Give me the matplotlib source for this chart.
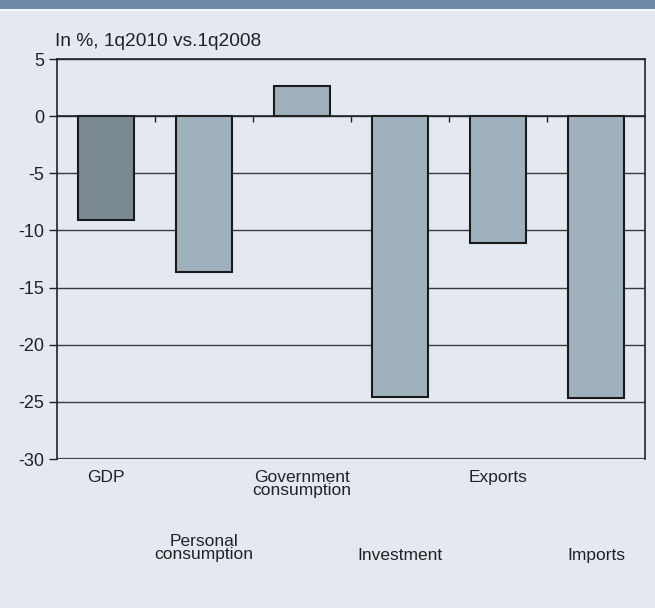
import matplotlib
matplotlib.use("Agg")
import matplotlib.pyplot as plt
from matplotlib.patches import Rectangle
import matplotlib.transforms as mtransforms

categories = ["GDP", "Personal\nconsumption", "Government\nconsumption",
              "Investment", "Exports", "Imports"]
values = [-9.1, -13.6, 2.6, -24.6, -11.1, -24.7]
bar_colors = ["#7b8a91", "#a0b1be", "#a0b1be", "#a0b1be", "#a0b1be", "#a0b1be"]
label_rows = [0, 1, 0, 1, 0, 1]
yticks = [5, 0, -5, -10, -15, -20, -25, -30]
subtitle = "In %, 1q2010 vs.1q2008"

bg = "#e4e8f0"
fig = plt.figure(figsize=(6.55, 6.08), dpi=100, facecolor=bg)

# header band
fig.patches.append(Rectangle((0, 1 - 9 / 608), 1, 9 / 608, transform=fig.transFigure,
                             facecolor="#6f88a9", edgecolor="none", zorder=0))
fig.patches.append(Rectangle((0, 1 - 11 / 608), 1, 2 / 608, transform=fig.transFigure,
                             facecolor="#f4f6f9", edgecolor="none", zorder=0))

left, right, top, bottom = 57, 645, 59, 459
W, H = 655, 608
ax = fig.add_axes([left / W, 1 - bottom / H, (right - left) / W, (bottom - top) / H])
ax.set_facecolor(bg)

x = list(range(len(categories)))
ax.bar(x, values, width=0.58, color=bar_colors, edgecolor="#1a1a1a", linewidth=1.5, zorder=3)

ax.set_xlim(-0.5, len(categories) - 0.5)
ax.set_ylim(-30, 5)
ax.set_yticks(yticks)
ax.set_yticklabels([str(v) for v in yticks], fontsize=13, family="Liberation Sans", color="#222222")
ax.yaxis.grid(True, color="#3a3a3a", linewidth=1.0, zorder=1)
ax.set_axisbelow(True)

for s in ["top", "right", "left"]:
    ax.spines[s].set_color("#222222")
    ax.spines[s].set_linewidth(1.2)
ax.spines["bottom"].set_position(("data", 0))
ax.spines["bottom"].set_color("#222222")
ax.spines["bottom"].set_linewidth(1.2)
ax.spines["bottom"].set_zorder(4)
ax.axhline(-30, color="#444444", linewidth=1.6, zorder=2)

ax.set_xticks([i + 0.5 for i in x[:-1]])
ax.set_xticklabels([])
ax.tick_params(axis="x", direction="out", length=4, width=1, color="#222222")
ax.tick_params(axis="y", direction="out", length=6, width=1, color="#222222", pad=3)

trans = mtransforms.blended_transform_factory(ax.transData, fig.transFigure)
for i, (lab, row) in enumerate(zip(categories, label_rows)):
    ypix = 470 if row == 0 else (534 if "\n" in lab else 548)
    ax.text(i, 1 - ypix / H, lab, transform=trans, ha="center", va="top",
            fontsize=12.5, family="Liberation Sans", color="#222222",
            linespacing=0.8)

fig.text(left / W - 0.003, 1 - 42 / H, subtitle, ha="left", va="center",
         fontsize=13.8, family="Liberation Sans", color="#222222")

fig.savefig("out.png", dpi=100, facecolor=bg)
